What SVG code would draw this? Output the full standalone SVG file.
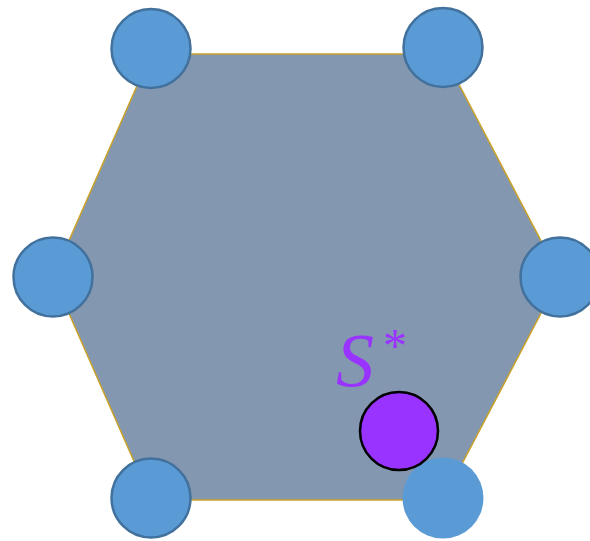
<svg xmlns="http://www.w3.org/2000/svg" width="590" height="541" viewBox="0 0 590 541">
<style>
.v{fill:#5B9BD5;stroke:#41719C;stroke-width:2.5}
.hex{fill:#8497B0;stroke:#C9A227;stroke-width:1.5}
</style>
<rect width="590" height="541" fill="#fff"/>
<g id="hexagon"><polygon class="hex" points="151,54 443,54 560,277 443,500 151,500 53,277"/></g>
<g id="connectors"></g>
<g id="v1"><circle class="v" cx="151" cy="48.5" r="39.5"/></g>
<g id="v2"><circle class="v" cx="443" cy="47.5" r="39.5"/></g>
<g id="v3"><circle class="v" cx="53" cy="277" r="39.5"/></g>
<g id="v4"><circle class="v" cx="560" cy="277" r="39.5"/></g>
<g id="v5"><circle class="v" cx="151" cy="498" r="39.5"/></g>
<g id="v6"><circle cx="443" cy="498" r="40.5" fill="#5B9BD5"/></g>
<g id="s"><circle cx="399" cy="431" r="39" fill="#9933FF" stroke="#000" stroke-width="2.5"/></g>
<g id="label">
<text x="336" y="386" font-family="Liberation Serif, serif" font-style="italic" font-size="76" fill="#9933FF">S</text>
<text x="383" y="362" font-family="Liberation Serif, serif" font-size="48" fill="#9933FF">*</text>
</g>
</svg>
